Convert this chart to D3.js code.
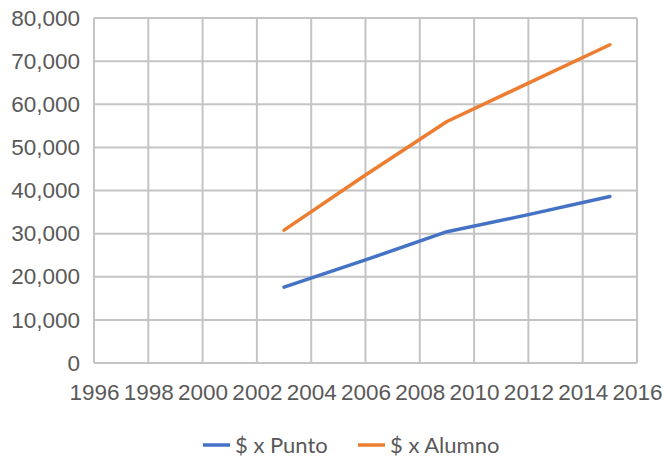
<!DOCTYPE html>
<html>
<head>
<meta charset="utf-8">
<script src="https://cdn.jsdelivr.net/npm/d3@7"></script>
<style>
  body { margin: 0; background: #fff; }
  svg { display: block; font-family: Lato, "Open Sans", sans-serif; }
</style>
</head>
<body>
<svg id="chart" width="664" height="459"></svg>
<script>
const years = [2003, 2006, 2009, 2012, 2015];
const puntoValues = [17600, 23900, 30450, 34400, 38600];
const alumnoValues = [30800, 43600, 56000, 64900, 73800];
const seriesNames = ["$ x Punto", "$ x Alumno"];
const xTicks = [1996, 1998, 2000, 2002, 2004, 2006, 2008, 2010, 2012, 2014, 2016];
const yTicks = [0, 10000, 20000, 30000, 40000, 50000, 60000, 70000, 80000];

const colors = ["#4472c4", "#ed7d31"];
const textColor = "#595959";
const gridColor = "#c4c4c4";

const svg = d3.select("#chart");
const margin = { top: 18, right: 27, bottom: 96, left: 94 };
const width = 664 - margin.left - margin.right;
const height = 459 - margin.top - margin.bottom;

const x = d3.scaleLinear().domain([1996, 2016]).range([0, width]);
const y = d3.scaleLinear().domain([0, 80000]).range([height, 0]);

const g = svg.append("g").attr("transform", `translate(${margin.left},${margin.top})`);

// grid
g.append("g")
  .selectAll("line")
  .data(yTicks)
  .enter()
  .append("line")
  .attr("x1", 0)
  .attr("x2", width)
  .attr("y1", (d) => y(d))
  .attr("y2", (d) => y(d))
  .attr("stroke", gridColor)
  .attr("stroke-width", 2);

g.append("g")
  .selectAll("line")
  .data(xTicks)
  .enter()
  .append("line")
  .attr("x1", (d) => x(d))
  .attr("x2", (d) => x(d))
  .attr("y1", 0)
  .attr("y2", height)
  .attr("stroke", gridColor)
  .attr("stroke-width", 2);

// axes labels
const fmt = d3.format(",");
const yAxis = g.append("g")
  .call(d3.axisLeft(y).tickValues(yTicks).tickFormat(fmt).tickSize(0).tickPadding(14));
const xAxis = g.append("g")
  .attr("transform", `translate(0,${height})`)
  .call(d3.axisBottom(x).tickValues(xTicks).tickFormat(d3.format("d")).tickSize(0).tickPadding(21));

[yAxis, xAxis].forEach((a) => {
  a.select(".domain").remove();
  a.selectAll("text")
    .attr("fill", textColor)
    .style("font-size", "22.5px");
});

// lines
const line = d3.line()
  .x((d) => x(d[0]))
  .y((d) => y(d[1]));

const series = [puntoValues, alumnoValues].map((vals) => years.map((yr, i) => [yr, vals[i]]));

g.append("g")
  .selectAll("path")
  .data(series)
  .enter()
  .append("path")
  .attr("d", line)
  .attr("fill", "none")
  .attr("stroke", (d, i) => colors[i])
  .attr("stroke-width", 3.5)
  .attr("stroke-linejoin", "round")
  .attr("stroke-linecap", "round");

// legend
const legendX = [203, 358];
const legend = svg.append("g")
  .selectAll("g")
  .data(seriesNames)
  .enter()
  .append("g")
  .attr("transform", (d, i) => `translate(${legendX[i]},445)`);

legend.append("line")
  .attr("x1", 0)
  .attr("x2", 27)
  .attr("stroke", (d, i) => colors[i])
  .attr("stroke-width", 3.5);

legend.append("text")
  .attr("x", 32)
  .attr("y", 0)
  .attr("dy", "0.36em")
  .attr("fill", textColor)
  .style("font-size", "22px")
  .text((d) => d);
</script>
</body>
</html>
